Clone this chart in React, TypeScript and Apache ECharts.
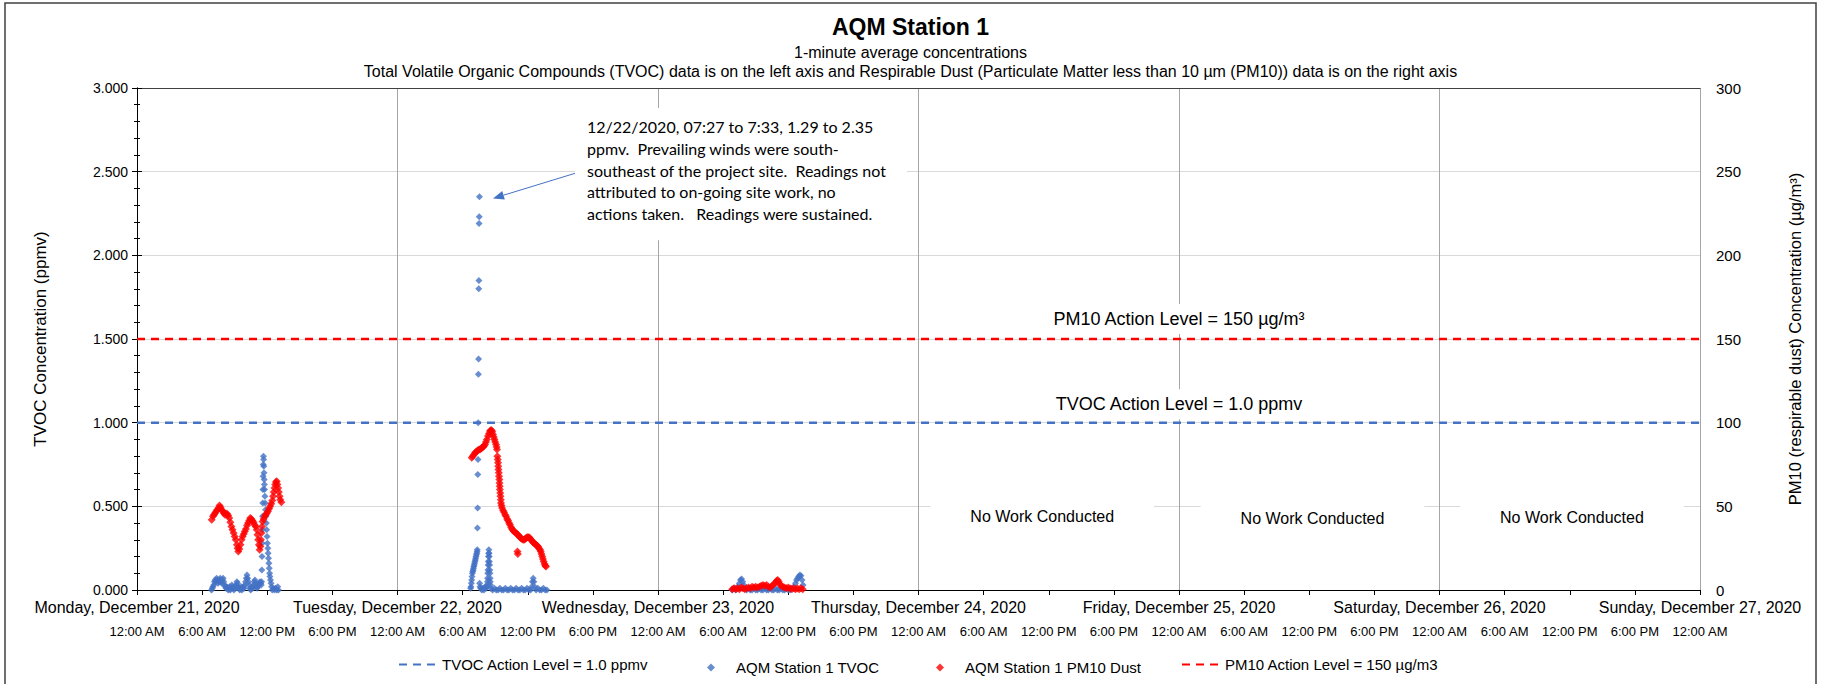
import React, { useEffect, useRef } from "react";
import * as echarts from "echarts";

// ---------- data ----------
const dayLabels = [
  "Monday, December 21, 2020",
  "Tuesday, December 22, 2020",
  "Wednesday, December 23, 2020",
  "Thursday, December 24, 2020",
  "Friday, December 25, 2020",
  "Saturday, December 26, 2020",
  "Sunday, December 27, 2020",
];
const hourLabels = ["12:00 AM", "6:00 AM", "12:00 PM", "6:00 PM"];

const tvocActionLevel = 1.0;
const pm10ActionLevel = 150;

// TVOC (ppmv), time of day per date
const tvocDec21: [string, number][] = [
  ["06:52", 0.0], ["06:56", 0.01], ["07:00", 0.02], ["07:04", 0.03], ["07:08", 0.05], ["07:12", 0.06],
  ["07:16", 0.05], ["07:20", 0.07], ["07:24", 0.06], ["07:28", 0.04], ["07:32", 0.05], ["07:36", 0.06],
  ["07:40", 0.07], ["07:44", 0.05], ["07:48", 0.04], ["07:52", 0.06], ["07:56", 0.07], ["08:00", 0.05],
  ["08:04", 0.03], ["08:08", 0.02], ["08:12", 0.01], ["08:16", 0.02], ["08:20", 0.01], ["08:24", 0.0],
  ["08:28", 0.01], ["08:32", 0.02], ["08:36", 0.0], ["08:40", 0.01], ["08:44", 0.03], ["08:48", 0.02],
  ["08:52", 0.01], ["08:56", 0.0], ["09:00", 0.02], ["09:04", 0.01], ["09:08", 0.03], ["09:12", 0.05],
  ["09:16", 0.04], ["09:20", 0.02], ["09:24", 0.01], ["09:28", 0.0], ["09:32", 0.01], ["09:36", 0.02],
  ["09:40", 0.0], ["09:44", 0.01], ["09:48", 0.02], ["09:52", 0.01], ["09:56", 0.03], ["10:00", 0.05],
  ["10:04", 0.07], ["10:08", 0.09], ["10:12", 0.07], ["10:16", 0.05], ["10:20", 0.03], ["10:24", 0.01],
  ["10:28", 0.0], ["10:32", 0.01], ["10:36", 0.02], ["10:40", 0.01], ["10:44", 0.03], ["10:48", 0.05],
  ["10:52", 0.06], ["10:56", 0.04], ["11:00", 0.02], ["11:04", 0.01], ["11:08", 0.02], ["11:12", 0.03],
  ["11:16", 0.04], ["11:20", 0.05], ["11:24", 0.04], ["11:27", 0.03],
  ["11:29", 0.05], ["11:30", 0.12], ["11:31", 0.2], ["11:32", 0.28], ["11:33", 0.36], ["11:34", 0.44],
  ["11:35", 0.52], ["11:36", 0.6], ["11:37", 0.68], ["11:38", 0.75], ["11:39", 0.8], ["11:40", 0.78],
  ["11:41", 0.74], ["11:42", 0.7], ["11:43", 0.66], ["11:44", 0.63], ["11:45", 0.6], ["11:47", 0.56],
  ["11:49", 0.52], ["11:51", 0.48], ["11:53", 0.44], ["11:55", 0.4], ["11:57", 0.36], ["11:59", 0.32],
  ["12:01", 0.28], ["12:03", 0.25], ["12:05", 0.22], ["12:07", 0.19], ["12:09", 0.16], ["12:11", 0.13],
  ["12:13", 0.1], ["12:15", 0.08], ["12:18", 0.06], ["12:21", 0.04], ["12:24", 0.02], ["12:28", 0.0],
  ["12:34", 0.01], ["12:40", 0.0], ["12:46", 0.01], ["12:52", 0.0], ["12:58", 0.02], ["13:02", 0.0],
];
const tvocDec22: [string, number][] = [
  ["06:44", 0.01], ["06:46", 0.02], ["06:48", 0.04], ["06:50", 0.06], ["06:52", 0.08], ["06:54", 0.1],
  ["06:56", 0.11], ["06:58", 0.12], ["07:00", 0.13], ["07:02", 0.14], ["07:04", 0.15], ["07:06", 0.16],
  ["07:08", 0.17], ["07:10", 0.18], ["07:12", 0.19], ["07:14", 0.2], ["07:16", 0.21], ["07:18", 0.22],
  ["07:20", 0.23],
  ["07:21", 0.24], ["07:22", 0.37], ["07:23", 0.49], ["07:24", 0.69], ["07:25", 0.78], ["07:26", 1.0],
  ["07:27", 1.29], ["07:28", 1.38], ["07:29", 1.8], ["07:30", 1.85], ["07:31", 2.19], ["07:32", 2.23],
  ["07:33", 2.35], ["07:34", 0.04], ["07:36", 0.02], ["07:40", 0.01], ["07:46", 0.0], ["07:52", 0.01],
  ["07:58", 0.0], ["08:04", 0.02], ["08:10", 0.01], ["08:14", 0.02],
  ["08:16", 0.03], ["08:17", 0.05], ["08:18", 0.07], ["08:19", 0.1], ["08:20", 0.12], ["08:21", 0.15],
  ["08:22", 0.17], ["08:23", 0.2], ["08:24", 0.22], ["08:25", 0.24], ["08:26", 0.22], ["08:27", 0.2],
  ["08:28", 0.17], ["08:29", 0.15], ["08:30", 0.12], ["08:31", 0.1], ["08:32", 0.07], ["08:33", 0.05],
  ["08:34", 0.03], ["08:36", 0.01],
  ["08:46", 0.0], ["08:56", 0.01], ["09:06", 0.0], ["09:16", 0.0], ["09:26", 0.01], ["09:36", 0.0],
  ["09:46", 0.0], ["09:56", 0.01], ["10:06", 0.0], ["10:16", 0.0], ["10:26", 0.01], ["10:36", 0.0],
  ["10:46", 0.0], ["10:56", 0.01], ["11:06", 0.0], ["11:16", 0.0], ["11:26", 0.01], ["11:36", 0.0],
  ["11:46", 0.0], ["11:56", 0.01], ["12:06", 0.0], ["12:16", 0.0], ["12:22", 0.02], ["12:26", 0.05],
  ["12:30", 0.07], ["12:34", 0.05], ["12:38", 0.02], ["12:46", 0.0], ["12:56", 0.01], ["13:06", 0.0],
  ["13:16", 0.0], ["13:26", 0.01], ["13:36", 0.0], ["13:46", 0.0],
];
const tvocDec23: [string, number][] = [
  ["06:50", 0.0], ["07:00", 0.01], ["07:10", 0.0], ["07:20", 0.02], ["07:30", 0.04], ["07:36", 0.06],
  ["07:42", 0.065], ["07:48", 0.05], ["07:54", 0.03], ["08:00", 0.01], ["08:10", 0.0], ["08:20", 0.01],
  ["08:30", 0.0], ["08:40", 0.0], ["08:50", 0.01], ["09:00", 0.0], ["09:10", 0.0], ["09:20", 0.01],
  ["09:30", 0.0], ["09:40", 0.0], ["09:50", 0.01], ["10:00", 0.0], ["10:10", 0.0], ["10:20", 0.01],
  ["10:30", 0.0], ["10:40", 0.0], ["10:50", 0.01], ["11:00", 0.0], ["11:10", 0.0], ["11:20", 0.01],
  ["11:30", 0.0], ["11:40", 0.0], ["11:50", 0.01], ["12:00", 0.0], ["12:10", 0.0], ["12:20", 0.01],
  ["12:30", 0.02], ["12:40", 0.04], ["12:46", 0.06], ["12:52", 0.07], ["12:58", 0.08], ["13:04", 0.09],
  ["13:10", 0.085], ["13:16", 0.06], ["13:22", 0.03],
];

// PM10 (µg/m³)
const pm10Dec21: [string, number][] = [
  ["06:53", 42], ["07:00", 44], ["07:06", 45], ["07:12", 46], ["07:18", 47], ["07:24", 48], ["07:30", 49],
  ["07:36", 50.5], ["07:42", 49.5], ["07:48", 48], ["07:54", 47], ["08:00", 46], ["08:06", 45], ["08:12", 45.5],
  ["08:18", 45.5], ["08:24", 44.5], ["08:30", 43], ["08:36", 40.5], ["08:42", 38], ["08:48", 36], ["08:54", 34],
  ["09:00", 32], ["09:06", 30], ["09:12", 27], ["09:16", 25], ["09:20", 23], ["09:26", 24.5], ["09:32", 27],
  ["09:38", 30], ["09:44", 32], ["09:50", 33.5], ["09:56", 35], ["10:02", 36.5], ["10:08", 38.5], ["10:14", 40],
  ["10:20", 41.5], ["10:26", 43], ["10:32", 42.5], ["10:38", 41.5], ["10:44", 40.5], ["10:50", 39], ["10:56", 38],
  ["11:02", 36], ["11:06", 33], ["11:10", 30], ["11:14", 27], ["11:18", 24], ["11:22", 26], ["11:25", 30],
  ["11:28", 34], ["11:31", 38], ["11:34", 41], ["11:40", 42.5], ["11:46", 44], ["11:52", 45], ["11:58", 46],
  ["12:04", 47], ["12:10", 48.5], ["12:16", 50], ["12:22", 51.5], ["12:28", 53.5], ["12:32", 56], ["12:36", 58.5],
  ["12:40", 61], ["12:44", 63], ["12:48", 64.5], ["12:52", 65], ["12:56", 63], ["13:00", 61], ["13:04", 58.5],
  ["13:08", 56], ["13:12", 54], ["13:18", 52.5],
];
const pm10Dec22: [string, number][] = [
  ["06:50", 79], ["06:56", 80], ["07:03", 81], ["07:09", 82], ["07:14", 82.5], ["07:20", 83], ["07:25", 83.5],
  ["07:31", 84], ["07:36", 84], ["07:42", 84.5], ["07:47", 85], ["07:53", 85.5], ["07:58", 86], ["08:04", 87],
  ["08:09", 88.5], ["08:14", 90], ["08:20", 92], ["08:26", 93.5], ["08:31", 95], ["08:36", 95.5], ["08:40", 95.5],
  ["08:44", 94.5], ["08:48", 93], ["08:52", 91.5], ["08:56", 90], ["09:00", 88.5], ["09:05", 87], ["09:08", 85.5],
  ["09:10", 84], ["09:12", 80], ["09:14", 78], ["09:16", 76], ["09:17", 74], ["09:18", 72], ["09:20", 70],
  ["09:21", 68], ["09:23", 66], ["09:24", 64], ["09:25", 62], ["09:26", 60], ["09:28", 58], ["09:29", 56],
  ["09:31", 54], ["09:32", 52], ["09:35", 50.5], ["09:38", 49], ["09:44", 47.5], ["09:49", 46.5], ["09:55", 45],
  ["10:00", 44], ["10:06", 42.5], ["10:11", 41.5], ["10:17", 40], ["10:22", 39], ["10:28", 37.5], ["10:33", 36.5],
  ["10:39", 35.5], ["10:44", 35], ["10:50", 34.5], ["10:55", 34], ["11:01", 33.5], ["11:03", 23], ["11:05", 21.5],
  ["11:06", 33], ["11:12", 32], ["11:17", 31.5], ["11:23", 31], ["11:28", 30.5], ["11:34", 30], ["11:40", 30],
  ["11:45", 30.5], ["11:50", 31], ["11:56", 31.5], ["12:01", 31.5], ["12:07", 31.5], ["12:12", 31], ["12:18", 30],
  ["12:23", 29.5], ["12:29", 28.5], ["12:35", 28], ["12:40", 27.5], ["12:46", 27], ["12:51", 26.5], ["12:57", 26],
  ["13:02", 25], ["13:08", 24], ["13:12", 23], ["13:16", 21.5], ["13:20", 20], ["13:24", 18.5], ["13:28", 17],
  ["13:33", 15.5], ["13:37", 14.5], ["13:41", 14],
];
const pm10Dec23: [string, number][] = [
  ["06:50", 0.5], ["07:00", 1.0], ["07:10", 0.5], ["07:20", 1.0], ["07:30", 0.5], ["07:40", 1.5], ["07:50", 1.0],
  ["08:00", 0.5], ["08:10", 1.0], ["08:20", 1.5], ["08:30", 1.0], ["08:40", 2.0], ["08:50", 1.5], ["09:00", 2.0],
  ["09:10", 1.5], ["09:20", 2.0], ["09:30", 2.5], ["09:40", 3.0], ["09:50", 2.5], ["10:00", 3.0], ["10:10", 2.0],
  ["10:20", 1.5], ["10:30", 2.5], ["10:40", 3.5], ["10:50", 4.5], ["10:56", 5.5], ["11:02", 6.0], ["11:08", 5.0],
  ["11:14", 3.5], ["11:20", 2.5], ["11:30", 2.0], ["11:40", 1.5], ["11:50", 1.0], ["12:00", 1.5], ["12:10", 1.0],
  ["12:20", 0.5], ["12:30", 1.0], ["12:40", 0.5], ["12:50", 1.0], ["13:00", 0.5], ["13:10", 1.0], ["13:20", 0.5],
];

const annotationLines = [
  "12/22/2020, 07:27 to 7:33, 1.29 to 2.35",
  "ppmv.  Prevailing winds were south-",
  "southeast of the project site.  Readings not",
  "attributed to on-going site work, no",
  "actions taken.   Readings were sustained.",
];

// ---------- helpers ----------
const ARIAL = "'Liberation Sans', Arial, sans-serif";
const CALIBRI = "Lato, 'Open Sans', sans-serif";
const BLUE = "#4472C4";
const RED = "#FF0000";

function toHours(day: number, hhmm: string): number {
  const [h, m] = hhmm.split(":").map(Number);
  return day * 24 + h + m / 60;
}
function build(parts: [string, number][][]): number[][] {
  const out: number[][] = [];
  parts.forEach((arr, day) => arr.forEach(([t, v]) => out.push([toHours(day, t), v])));
  return out;
}

export default function App() {
  const ref = useRef<HTMLDivElement>(null);
  useEffect(() => {
    if (!ref.current) return;
    const chart = echarts.init(ref.current, undefined, { renderer: "svg" });
    const tvocData = build([tvocDec21, tvocDec22, tvocDec23]);
    const pm10Data = build([pm10Dec21, pm10Dec22, pm10Dec23]);
    const maxH = (dayLabels.length - 1) * 24;

    const legendText = { fontFamily: ARIAL, fontSize: 15, color: "#000" };
    const lineLegend = {
      top: 652, itemWidth: 38, itemHeight: 14, selectedMode: false,
      itemStyle: { opacity: 0 }, textStyle: legendText,
    };
    const dotLegend = {
      top: 655, itemWidth: 8, itemHeight: 8, icon: "diamond", selectedMode: false,
      textStyle: { ...legendText, padding: [0, 0, 0, 16] },
    };

    chart.setOption({
      animation: false,
      backgroundColor: "#fff",
      textStyle: { fontFamily: ARIAL },
      title: [
        { text: "AQM Station 1", left: "center", top: 10, textStyle: { fontFamily: ARIAL, fontSize: 23, fontWeight: "bold", color: "#000" } },
        { text: "1-minute average concentrations", left: "center", top: 39, textStyle: { fontFamily: ARIAL, fontSize: 16, fontWeight: "normal", color: "#000" } },
        {
          text: "Total Volatile Organic Compounds (TVOC) data is on the left axis and Respirable Dust (Particulate Matter less than 10 µm (PM10)) data is on the right axis",
          left: "center", top: 58,
          textStyle: { fontFamily: ARIAL, fontSize: 16, fontWeight: "normal", color: "#000" },
        },
      ],
      legend: [
        { ...lineLegend, left: 393, data: ["TVOC Action Level = 1.0 ppmv"] },
        { ...dotLegend, left: 702, data: ["AQM Station 1 TVOC"] },
        { ...dotLegend, left: 931, data: ["AQM Station 1 PM10 Dust"] },
        { ...lineLegend, left: 1176, data: ["PM10 Action Level = 150 µg/m3"] },
      ],
      grid: { left: 137, right: 121, top: 88, bottom: 94 },
      xAxis: [
        {
          type: "value", min: 0, max: maxH, interval: 6, position: "bottom",
          axisLine: { show: true, lineStyle: { color: "#000", width: 1 } },
          axisTick: { show: true, length: 5, lineStyle: { color: "#000" } },
          axisLabel: {
            formatter: (v: number) => hourLabels[Math.round(v / 6) % 4],
            margin: 35, fontSize: 13, color: "#000", fontFamily: ARIAL,
          },
          splitLine: { show: false },
        },
        {
          type: "value", min: 0, max: maxH, interval: 24, position: "bottom",
          axisLine: { show: false }, axisTick: { show: false },
          axisLabel: {
            formatter: (v: number) => dayLabels[Math.round(v / 24)],
            margin: 9, fontSize: 16, color: "#000", fontFamily: ARIAL,
          },
          splitLine: { show: true, lineStyle: { color: "#A6A6A6", width: 1 } },
        },
        {
          type: "value", min: 0, max: maxH, position: "top",
          axisLine: { show: true, lineStyle: { color: "#404040", width: 1 } },
          axisTick: { show: false }, axisLabel: { show: false }, splitLine: { show: false },
        },
      ],
      yAxis: [
        {
          type: "value", min: 0, max: 3, interval: 0.5, position: "left",
          name: "TVOC Concentration (ppmv)", nameLocation: "middle", nameGap: 88, nameRotate: 90,
          nameTextStyle: { fontFamily: ARIAL, fontSize: 17, color: "#000" },
          axisLine: { show: true, lineStyle: { color: "#000" } },
          axisTick: { show: true, length: 5, lineStyle: { color: "#000" } },
          minorTick: { show: true, splitNumber: 5, length: 3, lineStyle: { color: "#000" } },
          axisLabel: { formatter: (v: number) => v.toFixed(3), fontSize: 14, margin: 9, color: "#000", fontFamily: ARIAL },
          splitLine: { show: true, lineStyle: { color: "#D9D9D9", width: 1 } },
        },
        {
          type: "value", min: 0, max: 300, interval: 50, position: "right",
          name: "PM10 (respirable dust) Concentration (µg/m³)", nameLocation: "middle", nameGap: 86, nameRotate: 90,
          nameTextStyle: { fontFamily: ARIAL, fontSize: 16.5, color: "#000" },
          axisLine: { show: true, lineStyle: { color: "#000" } },
          axisTick: { show: true, length: 5, lineStyle: { color: "#000" } },
          minorTick: { show: true, splitNumber: 5, length: 3, lineStyle: { color: "#000" } },
          axisLabel: { fontSize: 15, margin: 16, color: "#000", fontFamily: ARIAL },
          splitLine: { show: false },
        },
      ],
      series: [
        {
          name: "TVOC Action Level = 1.0 ppmv", type: "line", xAxisIndex: 0, yAxisIndex: 0,
          data: [[0, tvocActionLevel], [maxH, tvocActionLevel]], symbol: "none", z: 3,
          lineStyle: { color: BLUE, width: 2.5, type: [8, 6] }, itemStyle: { color: BLUE },
        },
        {
          name: "AQM Station 1 TVOC", type: "scatter", xAxisIndex: 0, yAxisIndex: 0,
          data: tvocData, symbol: "diamond", symbolSize: 7, itemStyle: { color: BLUE }, z: 4,
        },
        {
          name: "AQM Station 1 PM10 Dust", type: "scatter", xAxisIndex: 0, yAxisIndex: 1,
          data: pm10Data, symbol: "diamond", symbolSize: 8, itemStyle: { color: RED }, z: 5,
        },
        {
          name: "PM10 Action Level = 150 µg/m3", type: "line", xAxisIndex: 0, yAxisIndex: 1,
          data: [[0, pm10ActionLevel], [maxH, pm10ActionLevel]], symbol: "none", z: 3,
          lineStyle: { color: RED, width: 2.5, type: [8, 6] }, itemStyle: { color: RED },
        },
      ],
    });

    // annotations anchored through the axes
    const px = (h: number, v: number) =>
      chart.convertToPixel({ xAxisIndex: 0, yAxisIndex: 0 }, [h, v]) as number[];
    const boxA = px(40.35, 2.88);
    const boxB = px(70.95, 2.09);
    const tail = px(40.35, 2.49);
    const tip = px(32.8, 2.34);
    const dx = tip[0] - tail[0], dy = tip[1] - tail[1];
    const len = Math.hypot(dx, dy);
    const ux = dx / len, uy = dy / len;
    const hl = 11, hw = 4.5;
    const bx = tip[0] - ux * hl, by = tip[1] - uy * hl;
    const label = (text: string, p: number[], size: number, pad: number[]) => ({
      type: "text", z: 1, x: p[0], y: p[1],
      style: {
        text, fill: "#000", font: `${size}px ${ARIAL}`, align: "center", verticalAlign: "middle",
        backgroundColor: "#fff", padding: pad,
      },
    });
    const pm10Lbl = px(96, 1.62);
    const tvocLbl = px(96, 1.11);
    const nw1 = px(83.4, 0.44);
    const nw2 = px(108.3, 0.425);
    const nw3 = px(132.2, 0.435);
    const W = 1821;

    chart.setOption({
      graphic: [
        { type: "rect", z: 10, silent: true, shape: { x: 5, y: 3, width: W - 10, height: 700 }, style: { fill: "none", stroke: "#404040", lineWidth: 1.5 } },
        { type: "rect", z: 1, shape: { x: boxA[0], y: boxA[1], width: boxB[0] - boxA[0], height: boxB[1] - boxA[1] }, style: { fill: "#fff" } },
        {
          type: "text", z: 1, x: boxA[0] + 12, y: boxA[1] + 8,
          style: { text: annotationLines.join("\n"), fill: "#000", font: `16px ${CALIBRI}`, lineHeight: 21.6, align: "left", verticalAlign: "top" },
        },
        { type: "line", z: 6, shape: { x1: tail[0], y1: tail[1], x2: bx, y2: by }, style: { stroke: BLUE, lineWidth: 1 } },
        {
          type: "polygon", z: 6,
          shape: { points: [[tip[0], tip[1]], [bx + uy * hw, by - ux * hw], [bx - uy * hw, by + ux * hw]] },
          style: { fill: BLUE },
        },
        label("PM10 Action Level = 150 µg/m³", pm10Lbl, 18, [6, 8]),
        label("TVOC Action Level = 1.0 ppmv", tvocLbl, 18, [6, 8]),
        label("No Work Conducted", nw1, 16, [8, 40]),
        label("No Work Conducted", nw2, 16, [8, 40]),
        label("No Work Conducted", nw3, 16, [8, 40]),
      ],
    });

    return () => chart.dispose();
  }, []);
  return <div ref={ref} style={{ position: "fixed", left: 0, top: 0, width: 1821, height: 684, background: "#fff" }} />;
}
